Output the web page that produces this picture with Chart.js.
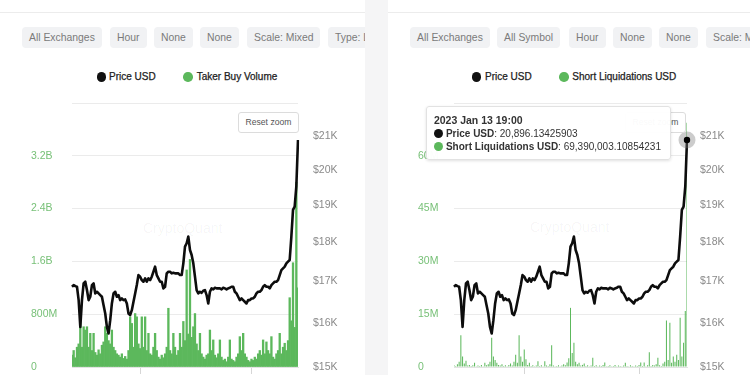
<!DOCTYPE html>
<html><head><meta charset="utf-8">
<script src="https://cdn.jsdelivr.net/npm/chart.js@4.4.1/dist/chart.umd.min.js"></script>
<style>
html,body{margin:0;padding:0;width:750px;height:375px;overflow:hidden;background:#f5f5f6;font-family:"Liberation Sans",Arial,sans-serif;}
.panel{position:absolute;top:0;height:375px;background:#fff;overflow:hidden;}
#p1{left:0;width:365px}
#p2{left:388px;width:362px}
.sep{position:absolute;left:0;right:0;top:12px;height:1px;background:#ececec}
.chip{position:absolute;top:27px;height:21px;line-height:21px;padding:0 7px;background:#f1f2f4;border-radius:4px;color:#7a7a7a;font-size:10.4px;white-space:nowrap}
.lg{position:absolute;top:70px;height:14px;line-height:14px;font-size:10px;color:#222;-webkit-text-stroke:0.25px #222;white-space:nowrap}
.dot{position:absolute;top:72.3px;width:9.5px;height:9.5px;border-radius:50%}
.wm{position:absolute;font-size:14px;line-height:16px;color:rgba(0,0,0,0.045);white-space:nowrap}
.reset{position:absolute;top:112px;width:59px;height:19px;border:1px solid #dcdcdc;border-radius:3px;background:#fff;font-size:8.6px;color:#555;line-height:19px;text-align:center;z-index:2;white-space:nowrap}
canvas{position:absolute;left:0;top:0;z-index:1}
#tt{position:absolute;display:none;background:rgba(255,255,255,0.97);border:1px solid #e2e2e2;border-radius:3px;box-shadow:0 1px 3px rgba(0,0,0,0.12);padding:7px 9px 6px 7px;font-size:10px;line-height:13px;color:#333;white-space:nowrap;z-index:5}
#tt .t{font-weight:bold;font-size:10.5px}
#tt .d{display:inline-block;width:9px;height:9px;border-radius:50%;margin-right:3px;vertical-align:-1px}
</style>
</head><body>
<div class="panel" id="p1">
  <div class="sep"></div>
  <div class="chip" style="left:22px">All Exchanges</div>
  <div class="chip" style="left:110px">Hour</div>
  <div class="chip" style="left:154px">None</div>
  <div class="chip" style="left:200px">None</div>
  <div class="chip" style="left:247px">Scale: Mixed</div>
  <div class="chip" style="left:328px">Type: Line</div>
  <div class="dot" style="left:96.7px;background:#111"></div>
  <div class="lg" style="left:109px">Price USD</div>
  <div class="dot" style="left:183.3px;background:#5cb85c"></div>
  <div class="lg" style="left:196.7px">Taker Buy Volume</div>
  <div class="wm" style="left:143px;top:220px">CryptoQuant</div>
  <canvas id="c1" width="365" height="400"></canvas>
  <div class="reset" style="left:238px">Reset zoom</div>
</div>
<div class="panel" id="p2">
  <div class="sep"></div>
  <div class="chip" style="left:22px">All Exchanges</div>
  <div class="chip" style="left:109px">All Symbol</div>
  <div class="chip" style="left:181px">Hour</div>
  <div class="chip" style="left:225px">None</div>
  <div class="chip" style="left:271px">None</div>
  <div class="chip" style="left:318px">Scale: Mixed</div>
  <div class="dot" style="left:83.7px;background:#111"></div>
  <div class="lg" style="left:97px">Price USD</div>
  <div class="dot" style="left:171.3px;background:#5cb85c"></div>
  <div class="lg" style="left:184.3px">Short Liquidations USD</div>
  <div class="wm" style="left:142px;top:219px">CryptoQuant</div>
  <canvas id="c2" width="362" height="400"></canvas>
  <div class="reset" style="left:237px">Reset zoom</div>
  <div id="tt"></div>
</div>
<script>
// ---- data (hourly samples, Nov 2022 -> 2023 Jan 13 19:00) ----
const priceUSD = [
  16865,16906,16880,16865,16539,15905,16539,16947,16989,16783,
  16539,16620,16906,16947,16701,16742,16701,16660,16620,16418,
  16219,15905,15751,16062,16458,16701,16742,16620,16660,16539,
  16579,16539,16555,16458,16219,16180,16298,16499,16701,16906,
  17155,17114,17030,16989,17072,16989,17072,17030,17114,17239,
  17366,17155,17072,16989,16989,16824,16865,17197,17239,17239,
  17197,17214,17197,17197,17197,17155,17155,17451,17882,17970,
  18146,17795,17665,17451,17114,16783,16701,16742,16717,16766,
  16783,16660,16458,16742,16824,16800,16840,16824,16824,16824,
  16800,16840,16824,16800,16824,16840,16865,16865,16742,16701,
  16620,16539,16579,16539,16499,16458,16539,16539,16579,16579,
  16620,16701,16742,16742,16783,16865,16906,16865,16865,16824,
  16906,16947,16989,16989,17030,17155,17281,17324,17366,17451,
  17494,17536,18146,18868,18960,19524,20896.13425903
];
const takerBuyVolume = [
  180e6,250e6,140e6,300e6,350e6,910e6,300e6,610e6,560e6,610e6,
  300e6,510e6,250e6,510e6,220e6,180e6,260e6,200e6,330e6,380e6,
  610e6,510e6,400e6,350e6,560e6,300e6,250e6,200e6,180e6,150e6,
  200e6,130e6,160e6,120e6,250e6,760e6,660e6,300e6,810e6,760e6,
  350e6,280e6,760e6,300e6,760e6,250e6,510e6,200e6,180e6,300e6,
  510e6,250e6,150e6,120e6,180e6,140e6,200e6,300e6,890e6,250e6,
  200e6,510e6,300e6,180e6,250e6,510e6,300e6,690e6,400e6,1470e6,
  500e6,1630e6,450e6,610e6,810e6,350e6,250e6,510e6,200e6,150e6,
  120e6,180e6,200e6,560e6,250e6,410e6,180e6,140e6,200e6,410e6,
  150e6,100e6,120e6,80e6,150e6,410e6,120e6,100e6,80e6,150e6,
  200e6,460e6,250e6,510e6,200e6,150e6,100e6,80e6,120e6,100e6,
  150e6,120e6,200e6,250e6,180e6,410e6,200e6,380e6,250e6,200e6,
  460e6,150e6,120e6,200e6,250e6,510e6,200e6,300e6,360e6,250e6,
  400e6,1050e6,700e6,1580e6,600e6,2800e6,1200e6
];
const shortLiquidationsUSD = [
  0.5e6,0.3e6,0.8e6,1.5e6,9e6,3e6,1e6,1.8e6,0.4e6,0.6e6,
  0.3e6,0.5e6,1.2e6,0.2e6,0.4e6,0.3e6,0.6e6,0.2e6,1.2e6,0.5e6,
  0.8e6,1.5e6,8.3e6,3e6,2e6,1.2e6,0.6e6,0.4e6,0.8e6,0.3e6,
  0.5e6,0.2e6,0.6e6,1e6,0.4e6,1.5e6,3.5e6,1.2e6,9e6,3e6,
  1.5e6,5e6,2.2e6,0.6e6,1.2e6,0.3e6,0.5e6,0.2e6,0.4e6,1.6e6,
  0.3e6,0.5e6,0.2e6,1.6e6,0.4e6,0.3e6,0.8e6,6.2e6,0.4e6,0.2e6,
  0.3e6,0.5e6,0.2e6,0.4e6,0.8e6,0.5e6,1.3e6,2.5e6,16.8e6,4e6,
  6.9e6,1.5e6,0.8e6,1.2e6,0.4e6,0.6e6,1e6,0.3e6,0.5e6,0.2e6,
  0.4e6,2.6e6,0.3e6,0.5e6,0.2e6,0.4e6,0.3e6,0.6e6,1.3e6,0.2e6,
  0.3e6,0.5e6,0.2e6,0.3e6,0.6e6,0.2e6,0.4e6,0.3e6,0.2e6,0.4e6,
  1.2e6,0.3e6,0.2e6,0.5e6,0.3e6,0.2e6,0.4e6,0.3e6,0.6e6,1.3e6,
  0.3e6,1.3e6,0.2e6,0.5e6,4.2e6,0.3e6,0.6e6,0.4e6,0.8e6,2.6e6,
  0.5e6,0.3e6,1e6,1.5e6,13.2e6,2e6,12.6e6,1.2e6,3e6,1.5e6,
  3.5e6,2e6,14e6,3e6,6.9e6,15.9e6,69390003.10854231
];
const lastTimestamp = '2023 Jan 13 19:00';
const priceTicks = [15000,16000,17000,18000,19000,20000,21000];
const xTickIndex = [41, 108];
const labels = priceUSD.map((_, i) => i);

Chart.defaults.font.family = '"Liberation Sans", Arial, sans-serif';
Chart.defaults.font.size = 10.5;

const fmtFull = v => v.toLocaleString('en-US', {maximumFractionDigits: 8});
const fmtAbbr = (v, max) => {
  if (v >= max) return '';
  if (v === 0) return '0';
  if (v >= 1e9) return (v / 1e9).toFixed(1) + 'B';
  return Math.round(v / 1e6) + 'M';
};

const haloPlugin = {
  id: 'halo',
  afterDatasetsDraw(chart, args, opts) {
    if (opts.index == null) return;
    const pt = chart.getDatasetMeta(0).data[opts.index];
    const ctx = chart.ctx;
    ctx.save();
    ctx.beginPath(); ctx.arc(pt.x, pt.y, 8.5, 0, Math.PI * 2);
    ctx.fillStyle = 'rgba(120,120,120,0.38)'; ctx.fill();
    ctx.beginPath(); ctx.arc(pt.x, pt.y, 3.2, 0, Math.PI * 2);
    ctx.fillStyle = '#000'; ctx.fill();
    ctx.restore();
  }
};

function externalTooltip({chart, tooltip}) {
  const el = document.getElementById('tt');
  if (!tooltip.opacity || !tooltip.dataPoints || !tooltip.dataPoints.length) { el.style.display = 'none'; return; }
  let html = '<div class="t">' + tooltip.title.join('') + '</div>';
  tooltip.dataPoints.forEach(dp => {
    html += '<div><span class="d" style="background:' + dp.dataset.legendColor + '"></span><b>' +
      dp.dataset.label + '</b>: ' + fmtFull(dp.raw) + '</div>';
  });
  el.innerHTML = html;
  const pt = chart.getDatasetMeta(0).data[tooltip.dataPoints[0].dataIndex];
  el.style.display = 'block';
  el.style.right = (chart.width - pt.x + 16) + 'px';
  el.style.top = (pt.y - 34) + 'px';
}

function makeChart(id, o) {
  return new Chart(document.getElementById(id), {
    type: 'bar',
    data: {
      labels,
      datasets: [
        { type: 'line', label: 'Price USD', data: priceUSD, yAxisID: 'yR', order: 0,
          borderColor: '#0d0d0d', borderWidth: 2.6, pointRadius: 0, pointHoverRadius: 0,
          tension: 0, borderJoinStyle: 'round', legendColor: '#111' },
        { type: 'bar', label: o.barLabel, data: o.bars, yAxisID: 'yL', order: 1,
          backgroundColor: '#5cb85c', borderWidth: 0, barPercentage: o.barPct,
          categoryPercentage: 1, legendColor: '#5cb85c' }
      ]
    },
    plugins: o.plugins || [],
    options: {
      responsive: false, animation: false, events: [],
      layout: { padding: { left: o.padL, right: 0, top: 103, bottom: 0 } },
      plugins: {
        legend: { display: false },
        tooltip: { enabled: false, mode: 'index', intersect: false, external: externalTooltip,
          callbacks: { title: items => items.length && items[0].dataIndex === labels.length - 1 ? lastTimestamp : '' } },
        halo: o.halo || {}
      },
      scales: {
        x: { type: 'category', offset: false,
          grid: { display: true, offset: false, drawOnChartArea: false, drawTicks: true, tickLength: 7, color: '#d6d6d6' },
          border: { display: true, color: '#e3e3e3' },
          ticks: { display: false },
          afterBuildTicks: s => { s.ticks = xTickIndex.map(v => ({ value: v })); },
          afterFit: s => { s.height = 33; } },
        yL: { type: 'linear', position: 'left', min: 0, max: o.leftMax,
          ticks: { stepSize: o.leftStep, color: '#77c077', crossAlign: 'far', padding: 0,
            callback: v => fmtAbbr(v, o.leftMax) },
          grid: { color: '#ebebeb', drawTicks: false },
          border: { display: false },
          afterFit: s => { s.width = o.leftW; } },
        yR: { type: 'logarithmic', position: 'right', min: 15000, max: 22055,
          ticks: { color: '#8a8a8a', padding: o.rightPad, callback: v => '$' + Math.round(v / 1000) + 'K' },
          afterBuildTicks: s => { s.ticks = priceTicks.map(v => ({ value: v })); },
          grid: { display: false, drawTicks: false },
          border: { display: false },
          afterFit: s => { s.width = o.rightW; } }
      }
    }
  });
}

makeChart('c1', { barLabel: 'Taker Buy Volume', bars: takerBuyVolume, barPct: 1,
  leftMax: 4e9, leftStep: 8e8, padL: 31, leftW: 41, rightW: 67, rightPad: 15 });

const c2 = makeChart('c2', { barLabel: 'Short Liquidations USD', bars: shortLiquidationsUSD, barPct: 0.6,
  leftMax: 75e6, leftStep: 15e6, padL: 30, leftW: 36, rightW: 63, rightPad: 13,
  plugins: [haloPlugin], halo: { index: labels.length - 1 } });

const last = labels.length - 1;
const hp = c2.getDatasetMeta(0).data[last];
c2.tooltip.setActiveElements([{ datasetIndex: 0, index: last }, { datasetIndex: 1, index: last }], { x: hp.x, y: hp.y });
</script>
</body></html>
